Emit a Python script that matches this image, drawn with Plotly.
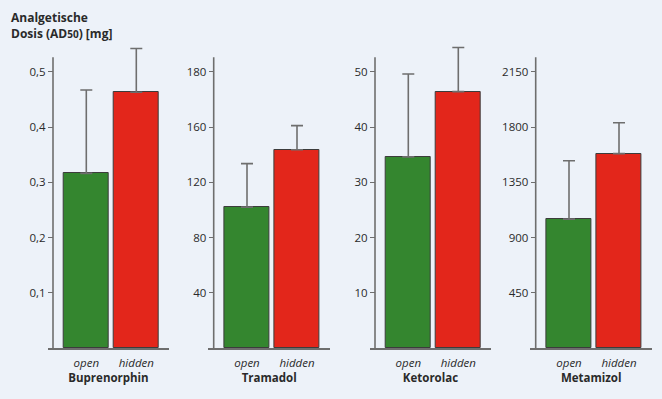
import plotly.graph_objects as go

drugs = ["Buprenorphin", "Tramadol", "Ketorolac", "Metamizol"]
groups = ["open", "hidden"]
open_vals = [0.316, 102, 34.6, 1050]
open_err = [0.151, 31.5, 15.0, 475]
hidden_vals = [0.463, 143.5, 46.4, 1583]
hidden_err = [0.079, 17.5, 8.0, 252]
ytick_vals = [
    [0.1, 0.2, 0.3, 0.4, 0.5],
    [40, 80, 120, 160, 200],
    [10, 20, 30, 40, 50],
    [450, 900, 1350, 1800, 2250],
]
ytick_text = [
    ["0,1", "0,2", "0,3", "0,4", "0,5"],
    ["40", "80", "120", "160", "180"],
    ["10", "20", "30", "40", "50"],
    ["450", "900", "1350", "1800", "2150"],
]

W, H = 662, 399
GREEN = "#34862f"
RED = "#e3261b"
AX = "#6e6e6e"
TXT = "#2a2a2a"
FONT = "Open Sans"

axis_px = [53, 213.7, 375, 535.7]
y_bottom_px, y_axis_top_px, y_dom_top_px, px_per_step = 348.0, 57.3, 30.0, 55.25

fig = go.Figure()
layout = {}
shapes = []
for i, d in enumerate(drugs):
    n = "" if i == 0 else str(i + 1)
    xa, ya = "x" + n, "y" + n
    step = ytick_vals[i][1] - ytick_vals[i][0]
    fig.add_trace(go.Bar(
        x=[0, 1], y=[open_vals[i], hidden_vals[i]],
        xaxis=xa, yaxis=ya, width=0.89,
        marker=dict(color=[GREEN, RED], line=dict(color="#3c3c3c", width=1)),
        error_y=dict(type="data", symmetric=False, array=[open_err[i], hidden_err[i]],
                     arrayminus=[0, 0], color=AX, thickness=1.6, width=6),
        cliponaxis=False, showlegend=False, hoverinfo="skip",
    ))
    a = axis_px[i]
    x0, x1 = a - 5.3, a + 116.3
    left_units = (a + 33.3 - x0) / 50.0
    total_units = (x1 - x0) / 50.0
    layout["xaxis" + n] = dict(
        domain=[x0 / W, x1 / W], anchor=ya,
        range=[-left_units, total_units - left_units],
        tickvals=[0, 1], ticktext=["<i>%s</i>" % g for g in groups],
        showline=True, linecolor=AX, linewidth=1.6,
        ticks="outside", ticklen=3, tickcolor="rgba(0,0,0,0)", showgrid=False,
        zeroline=False, tickfont=dict(family=FONT, size=11.5, color=TXT),
        title=dict(text="<b>%s</b>" % d, standoff=5,
                   font=dict(family=FONT, size=11.5, color=TXT)),
        fixedrange=True,
    )
    axis_top_val = (y_bottom_px - y_axis_top_px) / px_per_step * step
    dom_top_val = (y_bottom_px - y_dom_top_px) / px_per_step * step
    layout["yaxis" + n] = dict(
        domain=[1 - y_bottom_px / H, 1 - y_dom_top_px / H], anchor="free",
        position=a / W, range=[0, dom_top_val],
        tickvals=ytick_vals[i], ticktext=ytick_text[i],
        showline=False, ticks="outside",
        ticklen=5, tickwidth=1.3, tickcolor=AX, showgrid=False, zeroline=False,
        tickfont=dict(family=FONT, size=11.5, color=TXT), fixedrange=True,
    )
    shapes.append(dict(type="line", xref="paper", yref=ya,
                       x0=a / W, x1=a / W, y0=0, y1=axis_top_val,
                       line=dict(color=AX, width=1.6), layer="above"))

fig.update_layout(
    width=W, height=H, margin=dict(l=0, r=0, t=0, b=0),
    paper_bgcolor="#edf2f9", plot_bgcolor="rgba(0,0,0,0)",
    bargap=0, shapes=shapes, **layout,
    annotations=[dict(
        text="<b>Analgetische<br>Dosis (AD<span style='font-size:10px'>50</span>) [mg]</b>",
        xref="paper", yref="paper", x=9 / W, y=1 - 7 / H,
        xanchor="left", yanchor="top", align="left", showarrow=False,
        font=dict(family=FONT, size=12, color=TXT),
    )],
)

fig.write_html("out.html", config={"displayModeBar": False},
               post_script="document.body.style.margin='0';document.body.style.background='#edf2f9';")
